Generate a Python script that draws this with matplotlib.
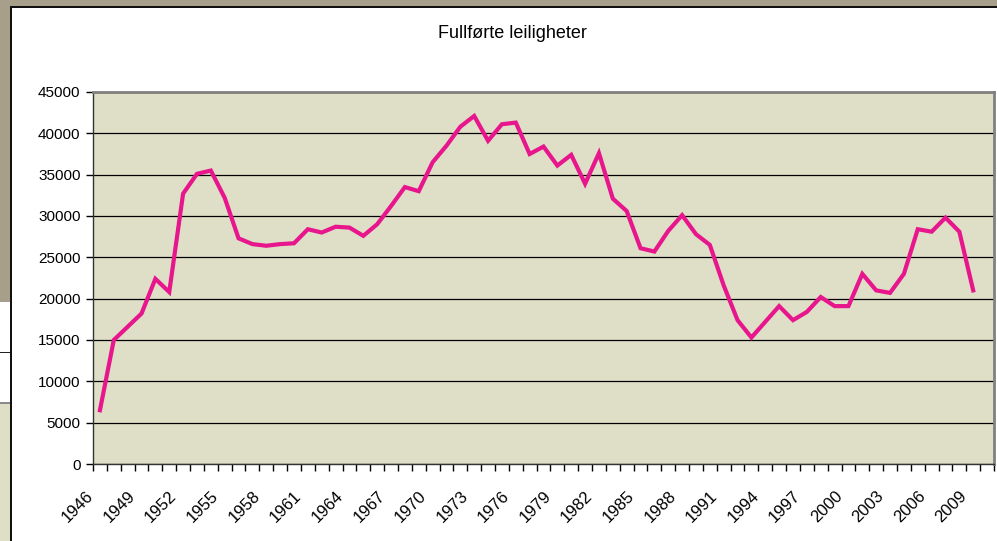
import matplotlib.pyplot as plt
from matplotlib.patches import Rectangle
from matplotlib.transforms import ScaledTranslation, blended_transform_factory
import numpy as np

plt.rcParams['font.family'] = ['Liberation Sans', 'DejaVu Sans']

# --- data ---
years = list(range(1946, 2010))
completed = [
    6500, 15000, 16600, 18200, 22400, 20800, 32700, 35100, 35500, 32200,
    27300, 26600, 26400, 26600, 26700, 28400, 28000, 28700, 28600, 27600,
    29000, 31200, 33500, 33000, 36500, 38500, 40800, 42100, 39100, 41100,
    41300, 37500, 38400, 36100, 37400, 33900, 37600, 32100, 30600, 26100,
    25700, 28200, 30100, 27800, 26500, 21600, 17400, 15300, 17200, 19100,
    17400, 18400, 20200, 19100, 19100, 23000, 21000, 20700, 23000, 28400,
    28100, 29800, 28100, 21000,
]
n_slots = 65  # category axis runs 1946..2010, last slot empty
label_years = list(range(1946, 2010, 3))
y_ticks = list(range(0, 45001, 5000))
title = "Fullførte leiligheter"

W, H = 997, 541
fig = plt.figure(figsize=(W / 100, H / 100), dpi=100)
fig.patch.set_facecolor('white')


def px(x0, y0, w, h, color, z=0):
    # rectangle given in pixel coords (top-left origin)
    fig.patches.append(Rectangle((x0 / W, 1 - (y0 + h) / H), w / W, h / H,
                                 transform=fig.transFigure, facecolor=color,
                                 edgecolor='none', zorder=z))


# --- screenshot frame around the chart ---
frame = '#a89f8a'
px(0, 0, W, 6, frame)
px(0, 0, 10, 302, frame)
px(0, 404, 10, 137, '#dfdfc8')
px(0, 402, 10, 2, '#8a8a8a')
px(0, 352, 10, 1, '#222222')
px(10, 6, 2, H - 6, '#111111')
px(10, 6, W - 10, 2, '#111111')

# --- plot area ---
ax = fig.add_axes([93 / W, 1 - 464 / H, 901 / W, 372 / H])
ax.set_facecolor('#dfdfc8')

x = np.arange(len(years))
ax.plot(x, completed, color='#e8168c', lw=3.0, solid_joinstyle='miter', zorder=3)

ax.set_xlim(-0.5, n_slots - 0.5)
ax.set_ylim(0, 45000)

ax.set_yticks(y_ticks)
ax.set_yticklabels([str(v) for v in y_ticks], fontsize=11)
ax.yaxis.grid(True, color='black', lw=0.9)
ax.set_axisbelow(True)

# category ticks sit between categories
ax.set_xticks(np.arange(n_slots + 1) - 0.5)
ax.set_xticklabels([])
ax.tick_params(axis='x', length=5, width=1, direction='out')
ax.tick_params(axis='y', length=5, width=1, direction='out', pad=4)

# rotated year labels, right end just left of the category centre
lbl_trans = blended_transform_factory(ax.transData, ax.transAxes) + \
    ScaledTranslation(-14 / 100, -24 / 100, fig.dpi_scale_trans)
for yr in label_years:
    ax.text(years.index(yr), 0, str(yr), transform=lbl_trans, fontsize=12,
            rotation=45, ha='right', va='top', rotation_mode='anchor',
            clip_on=False)

for side in ['top', 'right']:
    ax.spines[side].set_color('#808080')
    ax.spines[side].set_linewidth(2)
for side in ['left', 'bottom']:
    ax.spines[side].set_color('#333333')
    ax.spines[side].set_linewidth(1)

fig.text(512 / W, 1 - 33 / H, title, ha='center', va='center', fontsize=13)

fig.savefig('out.png', dpi=100)
